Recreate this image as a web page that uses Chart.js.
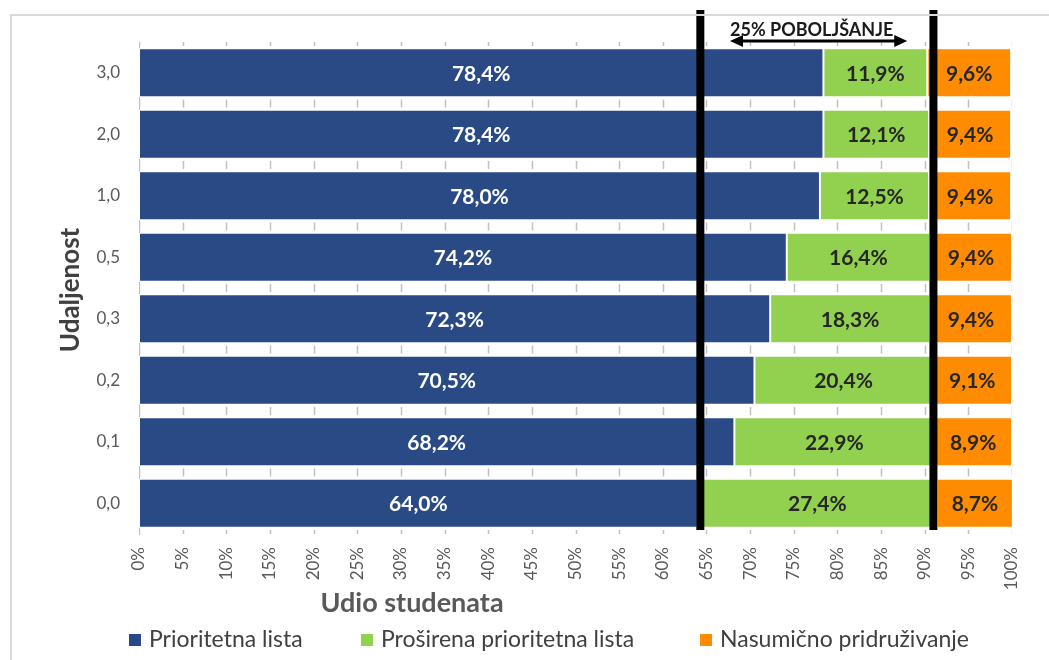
<!DOCTYPE html>
<html>
<head>
<meta charset="utf-8">
<script src="https://cdn.jsdelivr.net/npm/chart.js@4/dist/chart.umd.min.js"></script>
<style>
  html, body { margin: 0; padding: 0; background: #ffffff; }
  #wrap { position: relative; width: 1049px; height: 660px; }
</style>
</head>
<body>
<div id="wrap"><canvas id="c" width="1049" height="660"></canvas></div>
<script>
// Distance categories (top to bottom)
const categories = ['3,0', '2,0', '1,0', '0,5', '0,3', '0,2', '0,1', '0,0'];

// Share of students per assignment method, in percent
const prioritetna = [78.4, 78.4, 78.0, 74.2, 72.3, 70.5, 68.2, 64.0];
const prosirena   = [11.9, 12.1, 12.5, 16.4, 18.3, 20.4, 22.9, 27.4];
const nasumicno   = [9.6, 9.4, 9.4, 9.4, 9.4, 9.1, 8.9, 8.7];

const seriesNames = ['Prioritetna lista', 'Proširena prioritetna lista', 'Nasumično pridruživanje'];

// X axis tick values
const xTicks = [0, 5, 10, 15, 20, 25, 30, 35, 40, 45, 50, 55, 60, 65, 70, 75, 80, 85, 90, 95, 100];

// Improvement band: boundary lines and arrow span (percent)
const bandLines = [64.3, 91.0];
const arrowSpan = [67.7, 88.0];
const bandText = '25% POBOLJŠANJE';

const FONT = 'Lato, "Open Sans", "DejaVu Sans", sans-serif';
const colors = ['#2A4A86', '#92D050', '#FF8C00'];
const fmt = v => v.toFixed(1).replace('.', ',') + '%';

// Short marks in the gaps between bars at every 5 %
const gapTicks = {
  id: 'gapTicks',
  beforeDatasetsDraw(chart) {
    const { ctx, chartArea: a, scales: { x, y } } = chart;
    ctx.save();
    ctx.beginPath();
    ctx.rect(a.left, a.top, a.right - a.left, a.bottom - a.top);
    ctx.clip();
    ctx.strokeStyle = '#c0c0c0';
    ctx.lineWidth = 1.5;
    for (let i = 0; i <= categories.length; i++) {
      const yy = y.getPixelForValue(i - 0.5);
      xTicks.forEach(t => {
        const xx = Math.round(x.getPixelForValue(t)) + 0.5;
        ctx.beginPath();
        ctx.moveTo(xx, yy - 4);
        ctx.lineTo(xx, yy + 4);
        ctx.stroke();
      });
    }
    ctx.restore();
  }
};

// Value labels centred in each segment
const segLabels = {
  id: 'segLabels',
  afterDatasetsDraw(chart) {
    const { ctx } = chart;
    ctx.save();
    ctx.font = 'bold 21px ' + FONT;
    ctx.textAlign = 'center';
    ctx.textBaseline = 'middle';
    chart.data.datasets.forEach((ds, di) => {
      const meta = chart.getDatasetMeta(di);
      meta.data.forEach((bar, i) => {
        const cx = (bar.x + bar.base) / 2;
        ctx.fillStyle = di === 0 ? '#ffffff' : '#262626';
        ctx.fillText(fmt(ds.data[i]), cx, bar.y + 1);
      });
    });
    ctx.restore();
  }
};

// Black boundary lines with the double arrow and its caption
const band = {
  id: 'band',
  afterDatasetsDraw(chart) {
    const { ctx, chartArea: a, scales: { x } } = chart;
    ctx.save();
    ctx.strokeStyle = '#000000';
    ctx.lineWidth = 8;
    bandLines.forEach(v => {
      const xx = x.getPixelForValue(v);
      ctx.beginPath();
      ctx.moveTo(xx, 10);
      ctx.lineTo(xx, a.bottom - 4);
      ctx.stroke();
    });

    const x1 = x.getPixelForValue(arrowSpan[0]);
    const x2 = x.getPixelForValue(arrowSpan[1]);
    const ay = 41;
    const head = 13, half = 6;
    ctx.lineWidth = 3;
    ctx.beginPath();
    ctx.moveTo(x1 + head - 2, ay);
    ctx.lineTo(x2 - head + 2, ay);
    ctx.stroke();
    ctx.fillStyle = '#000000';
    ctx.beginPath();
    ctx.moveTo(x1, ay);
    ctx.lineTo(x1 + head, ay - half);
    ctx.lineTo(x1 + head, ay + half);
    ctx.closePath();
    ctx.fill();
    ctx.beginPath();
    ctx.moveTo(x2, ay);
    ctx.lineTo(x2 - head, ay - half);
    ctx.lineTo(x2 - head, ay + half);
    ctx.closePath();
    ctx.fill();

    ctx.font = 'bold 18px ' + FONT;
    ctx.textAlign = 'center';
    ctx.textBaseline = 'alphabetic';
    ctx.fillStyle = '#1a1a1a';
    ctx.fillText(bandText, (x1 + x2) / 2 - 7, 36);
    ctx.restore();
  }
};

// Frame, axis titles and legend
const frame = {
  id: 'frame',
  afterDraw(chart) {
    const { ctx } = chart;
    ctx.save();
    ctx.strokeStyle = '#d9d9d9';
    ctx.lineWidth = 2;
    ctx.beginPath();
    ctx.moveTo(11, 660);
    ctx.lineTo(11, 15);
    ctx.lineTo(1049, 15);
    ctx.stroke();

    // axis titles
    ctx.textAlign = 'center';
    ctx.textBaseline = 'middle';
    ctx.fillStyle = '#595959';
    ctx.font = 'bold 27px ' + FONT;
    ctx.fillText('Udio studenata', 412, 603);
    ctx.save();
    ctx.translate(71, 290);
    ctx.rotate(-Math.PI / 2);
    ctx.fillStyle = '#404040';
    ctx.font = 'bold 26px ' + FONT;
    ctx.fillText('Udaljenost', 0, 0);
    ctx.restore();

    // legend
    const itemX = [129, 361, 700];
    ctx.font = '23px ' + FONT;
    ctx.textAlign = 'left';
    ctx.textBaseline = 'middle';
    seriesNames.forEach((name, i) => {
      ctx.fillStyle = colors[i];
      ctx.fillRect(itemX[i], 634, 12, 12);
      ctx.fillStyle = '#404040';
      ctx.fillText(name, itemX[i] + 20, 640);
    });
    ctx.restore();
  }
};

new Chart(document.getElementById('c'), {
  type: 'bar',
  data: {
    labels: categories,
    datasets: [
      { label: seriesNames[0], data: prioritetna, backgroundColor: colors[0] },
      { label: seriesNames[1], data: prosirena, backgroundColor: colors[1] },
      { label: seriesNames[2], data: nasumicno, backgroundColor: colors[2] }
    ].map(d => Object.assign(d, {
      borderColor: '#ffffff',
      borderWidth: 1,
      borderSkipped: false,
      barPercentage: 0.8,
      categoryPercentage: 1.0
    }))
  },
  options: {
    indexAxis: 'y',
    responsive: false,
    animation: false,
    devicePixelRatio: 1,
    layout: { padding: { left: 0, top: 42, right: 37, bottom: 0 } },
    plugins: {
      legend: { display: false },
      tooltip: { enabled: false }
    },
    scales: {
      x: {
        stacked: true,
        min: 0,
        max: 100,
        afterFit(s) { s.height = 126; },
        afterBuildTicks(s) { s.ticks = xTicks.map(v => ({ value: v })); },
        grid: { display: false, drawTicks: false },
        border: { display: false },
        ticks: {
          minRotation: 90,
          maxRotation: 90,
          padding: 13,
          color: '#595959',
          font: { family: FONT, size: 17 },
          callback: v => v + '%'
        }
      },
      y: {
        stacked: true,
        afterFit(s) { s.width = 139; },
        grid: { display: false, drawTicks: false },
        border: { display: true, color: '#bfbfbf', width: 1 },
        ticks: {
          padding: 19,
          color: '#595959',
          font: { family: FONT, size: 17 }
        }
      }
    }
  },
  plugins: [gapTicks, segLabels, band, frame]
});
</script>
</body>
</html>
